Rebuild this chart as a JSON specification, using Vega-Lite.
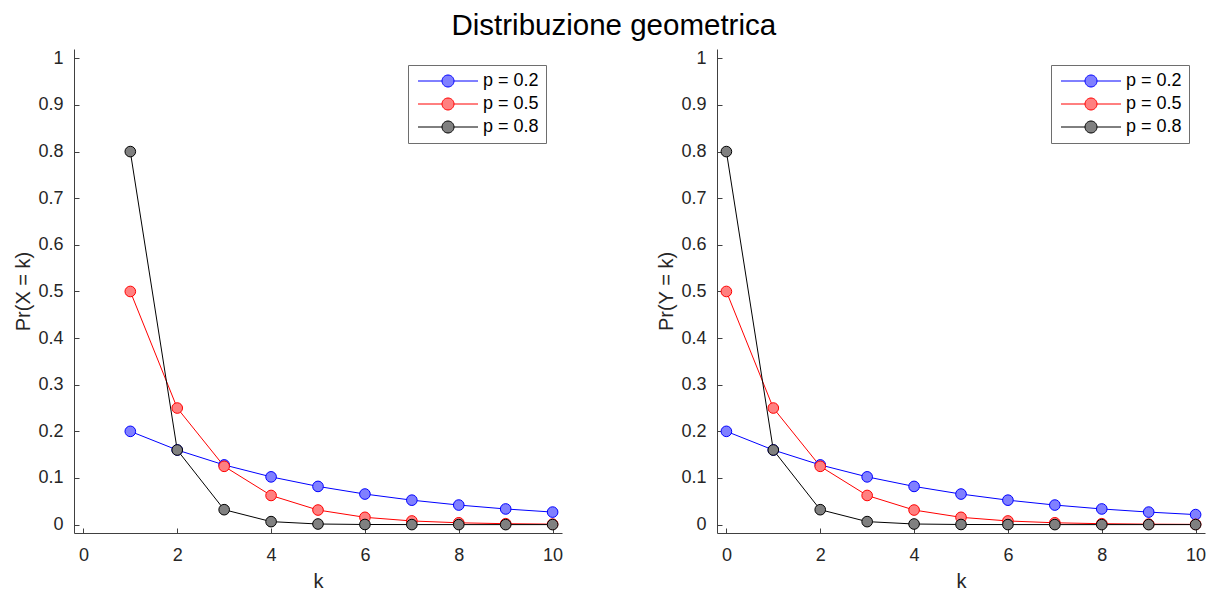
{
  "$schema": "https://vega.github.io/schema/vega-lite/v6.json",
  "background": "white",
  "padding": {"left": 13, "top": 10, "right": 0, "bottom": 0},
  "title": {
    "text": "Distribuzione geometrica",
    "font": "Liberation Sans",
    "fontSize": 29.5,
    "fontWeight": "normal",
    "color": "#000000",
    "anchor": "middle",
    "dx": 4,
    "offset": 8
  },
  "datasets": {
    "trials": [
      {"k": 1, "pr": 0.2, "p": "p = 0.2"},
      {"k": 2, "pr": 0.16, "p": "p = 0.2"},
      {"k": 3, "pr": 0.128, "p": "p = 0.2"},
      {"k": 4, "pr": 0.1024, "p": "p = 0.2"},
      {"k": 5, "pr": 0.08192, "p": "p = 0.2"},
      {"k": 6, "pr": 0.065536, "p": "p = 0.2"},
      {"k": 7, "pr": 0.0524288, "p": "p = 0.2"},
      {"k": 8, "pr": 0.04194304, "p": "p = 0.2"},
      {"k": 9, "pr": 0.033554432, "p": "p = 0.2"},
      {"k": 10, "pr": 0.0268435456, "p": "p = 0.2"},
      {"k": 1, "pr": 0.5, "p": "p = 0.5"},
      {"k": 2, "pr": 0.25, "p": "p = 0.5"},
      {"k": 3, "pr": 0.125, "p": "p = 0.5"},
      {"k": 4, "pr": 0.0625, "p": "p = 0.5"},
      {"k": 5, "pr": 0.03125, "p": "p = 0.5"},
      {"k": 6, "pr": 0.015625, "p": "p = 0.5"},
      {"k": 7, "pr": 0.0078125, "p": "p = 0.5"},
      {"k": 8, "pr": 0.00390625, "p": "p = 0.5"},
      {"k": 9, "pr": 0.001953125, "p": "p = 0.5"},
      {"k": 10, "pr": 0.0009765625, "p": "p = 0.5"},
      {"k": 1, "pr": 0.8, "p": "p = 0.8"},
      {"k": 2, "pr": 0.16, "p": "p = 0.8"},
      {"k": 3, "pr": 0.032, "p": "p = 0.8"},
      {"k": 4, "pr": 0.0064, "p": "p = 0.8"},
      {"k": 5, "pr": 0.00128, "p": "p = 0.8"},
      {"k": 6, "pr": 0.000256, "p": "p = 0.8"},
      {"k": 7, "pr": 0.0000512, "p": "p = 0.8"},
      {"k": 8, "pr": 0.00001024, "p": "p = 0.8"},
      {"k": 9, "pr": 0.000002048, "p": "p = 0.8"},
      {"k": 10, "pr": 0.0000004096, "p": "p = 0.8"}
    ],
    "failures": [
      {"k": 0, "pr": 0.2, "p": "p = 0.2"},
      {"k": 1, "pr": 0.16, "p": "p = 0.2"},
      {"k": 2, "pr": 0.128, "p": "p = 0.2"},
      {"k": 3, "pr": 0.1024, "p": "p = 0.2"},
      {"k": 4, "pr": 0.08192, "p": "p = 0.2"},
      {"k": 5, "pr": 0.065536, "p": "p = 0.2"},
      {"k": 6, "pr": 0.0524288, "p": "p = 0.2"},
      {"k": 7, "pr": 0.04194304, "p": "p = 0.2"},
      {"k": 8, "pr": 0.033554432, "p": "p = 0.2"},
      {"k": 9, "pr": 0.0268435456, "p": "p = 0.2"},
      {"k": 10, "pr": 0.02147483648, "p": "p = 0.2"},
      {"k": 0, "pr": 0.5, "p": "p = 0.5"},
      {"k": 1, "pr": 0.25, "p": "p = 0.5"},
      {"k": 2, "pr": 0.125, "p": "p = 0.5"},
      {"k": 3, "pr": 0.0625, "p": "p = 0.5"},
      {"k": 4, "pr": 0.03125, "p": "p = 0.5"},
      {"k": 5, "pr": 0.015625, "p": "p = 0.5"},
      {"k": 6, "pr": 0.0078125, "p": "p = 0.5"},
      {"k": 7, "pr": 0.00390625, "p": "p = 0.5"},
      {"k": 8, "pr": 0.001953125, "p": "p = 0.5"},
      {"k": 9, "pr": 0.0009765625, "p": "p = 0.5"},
      {"k": 10, "pr": 0.00048828125, "p": "p = 0.5"},
      {"k": 0, "pr": 0.8, "p": "p = 0.8"},
      {"k": 1, "pr": 0.16, "p": "p = 0.8"},
      {"k": 2, "pr": 0.032, "p": "p = 0.8"},
      {"k": 3, "pr": 0.0064, "p": "p = 0.8"},
      {"k": 4, "pr": 0.00128, "p": "p = 0.8"},
      {"k": 5, "pr": 0.000256, "p": "p = 0.8"},
      {"k": 6, "pr": 0.0000512, "p": "p = 0.8"},
      {"k": 7, "pr": 0.00001024, "p": "p = 0.8"},
      {"k": 8, "pr": 0.000002048, "p": "p = 0.8"},
      {"k": 9, "pr": 0.0000004096, "p": "p = 0.8"},
      {"k": 10, "pr": 0.00000008192, "p": "p = 0.8"}
    ]
  },
  "spacing": 93,
  "hconcat": [
    {
      "width": 488,
      "height": 484,
      "data": {"name": "trials"},
      "encoding": {
        "x": {
          "field": "k", "type": "quantitative", "title": "k",
          "scale": {"domain": [-0.2, 10.2], "nice": false, "zero": false},
          "axis": {"values": [0, 2, 4, 6, 8, 10], "labelPadding": 18, "titlePadding": 7}
        },
        "y": {
          "field": "pr", "type": "quantitative", "title": "Pr(X = k)",
          "scale": {"domain": [-0.018, 1.02], "nice": false, "zero": false},
          "axis": {"values": [0, 0.1, 0.2, 0.3, 0.4, 0.5, 0.6, 0.7, 0.8, 0.9, 1], "format": "~g", "titlePadding": 4}
        },
        "stroke": {
          "field": "p", "type": "nominal",
          "scale": {"domain": ["p = 0.2", "p = 0.5", "p = 0.8"], "range": ["#0000ff", "#ff0000", "#000000"]},
          "legend": {"title": null, "symbolType": "M-1,0L3,0M5,0L9,0M3,0A1,1,0,1,1,5,0A1,1,0,1,1,3,0Z"}
        }
      },
      "layer": [
        {"mark": {"type": "line", "strokeWidth": 1}},
        {
          "mark": {"type": "point", "shape": "circle", "filled": true, "size": 113, "strokeWidth": 1, "opacity": 1},
          "encoding": {
            "fill": {
              "field": "p", "type": "nominal",
              "scale": {"domain": ["p = 0.2", "p = 0.5", "p = 0.8"], "range": ["#8080ff", "#ff8080", "#808080"]},
              "legend": {"title": null, "symbolType": "M-1,0L3,0M5,0L9,0M3,0A1,1,0,1,1,5,0A1,1,0,1,1,3,0Z"}
            }
          }
        }
      ]
    },
    {
      "width": 488,
      "height": 484,
      "data": {"name": "failures"},
      "encoding": {
        "x": {
          "field": "k", "type": "quantitative", "title": "k",
          "scale": {"domain": [-0.2, 10.2], "nice": false, "zero": false},
          "axis": {"values": [0, 2, 4, 6, 8, 10], "labelPadding": 18, "titlePadding": 7}
        },
        "y": {
          "field": "pr", "type": "quantitative", "title": "Pr(Y = k)",
          "scale": {"domain": [-0.018, 1.02], "nice": false, "zero": false},
          "axis": {"values": [0, 0.1, 0.2, 0.3, 0.4, 0.5, 0.6, 0.7, 0.8, 0.9, 1], "format": "~g", "titlePadding": 4}
        },
        "stroke": {
          "field": "p", "type": "nominal",
          "scale": {"domain": ["p = 0.2", "p = 0.5", "p = 0.8"], "range": ["#0000ff", "#ff0000", "#000000"]},
          "legend": {"title": null, "symbolType": "M-1,0L3,0M5,0L9,0M3,0A1,1,0,1,1,5,0A1,1,0,1,1,3,0Z"}
        }
      },
      "layer": [
        {"mark": {"type": "line", "strokeWidth": 1}},
        {
          "mark": {"type": "point", "shape": "circle", "filled": true, "size": 113, "strokeWidth": 1, "opacity": 1},
          "encoding": {
            "fill": {
              "field": "p", "type": "nominal",
              "scale": {"domain": ["p = 0.2", "p = 0.5", "p = 0.8"], "range": ["#8080ff", "#ff8080", "#808080"]},
              "legend": {"title": null, "symbolType": "M-1,0L3,0M5,0L9,0M3,0A1,1,0,1,1,5,0A1,1,0,1,1,3,0Z"}
            }
          }
        }
      ]
    }
  ],
  "resolve": {"legend": {"stroke": "independent", "fill": "independent"}},
  "config": {
    "font": "Liberation Sans",
    "view": {"stroke": null},
    "axis": {
      "grid": false,
      "domainColor": "#404040",
      "domainWidth": 1,
      "tickColor": "#404040",
      "tickSize": -5,
      "tickWidth": 1,
      "labelFont": "Liberation Sans",
      "labelFontSize": 18,
      "labelColor": "#262626",
      "labelPadding": 16,
      "titleFont": "Liberation Sans",
      "titleFontSize": 20,
      "titleFontWeight": "normal",
      "titleColor": "#262626",
      "titlePadding": 6
    },
    "legend": {
      "orient": "top-right",
      "offset": 16,
      "padding": 7,
      "rowPadding": 5,
      "strokeColor": "#6e6e6e",
      "strokeWidth": 1,
      "fillColor": "white",
      "symbolSize": 144,
      "symbolStrokeWidth": 1,
      "symbolOpacity": 1,
      "labelFont": "Liberation Sans",
      "labelFontSize": 18,
      "labelColor": "#000000",
      "labelOffset": 50
    }
  }
}
